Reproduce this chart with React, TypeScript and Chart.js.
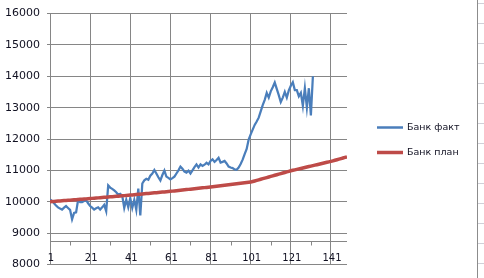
import React, { useEffect, useRef } from "react";
import { Chart, registerables } from "chart.js";

Chart.register(...registerables);

const seriesNames = ["Банк факт", "Банк план"];
const tickLabels = [1, 21, 41, 61, 81, 101, 121, 141];
const minorTicks = [11, 31, 51, 71, 91, 111, 131];
const yMin = 8000;
const yMax = 16000;
const yStep = 1000;
const xMin = 1;
const xMax = 149;

const bankFact = [
  10070, 10020, 9950, 9880, 9820, 9780, 9750, 9810, 9860, 9800,
  9740, 9440, 9640, 9660, 10050, 9990, 9990, 10020, 10050, 9950,
  9860, 9810, 9750, 9790, 9820, 9750, 9820, 9900, 9700, 10520,
  10450, 10410, 10360, 10300, 10220, 10250, 10190, 9800, 10060, 9820,
  10110, 9800, 10060, 9740, 10420, 9560, 10580, 10680, 10730, 10700,
  10830, 10900, 11010, 10900, 10780, 10680, 10850, 10990, 10800, 10760,
  10710, 10750, 10800, 10900, 11000, 11120, 11050, 10960, 10930, 10990,
  10900, 11000, 11100, 11190, 11090, 11190, 11140, 11180, 11240, 11190,
  11300, 11350, 11270, 11330, 11400, 11250, 11270, 11300, 11220, 11120,
  11090, 11070, 11030, 11020, 11090, 11200, 11340, 11520, 11680, 11980,
  12150, 12300, 12450, 12560, 12680, 12880, 13080, 13250, 13470, 13320,
  13520, 13650, 13800, 13600, 13400, 13180, 13320, 13500, 13320, 13550,
  13700, 13810, 13560, 13560, 13360, 13470, 13060, 13620, 13000, 13620,
  12750, 14000,
];

const bankPlan = [
  10000, 10005, 10010, 10015, 10020, 10025, 10030, 10035, 10040, 10045,
  10050, 10055, 10060, 10065, 10070, 10075, 10080, 10085, 10090, 10095,
  10100, 10106, 10111, 10117, 10122, 10128, 10133, 10139, 10144, 10150,
  10155, 10161, 10166, 10172, 10177, 10183, 10188, 10194, 10199, 10205,
  10210, 10216, 10222, 10228, 10234, 10240, 10246, 10252, 10258, 10264,
  10270, 10276, 10282, 10288, 10294, 10300, 10306, 10312, 10318, 10324,
  10330, 10337, 10344, 10351, 10358, 10365, 10372, 10379, 10386, 10393,
  10400, 10407, 10414, 10421, 10428, 10435, 10442, 10449, 10456, 10463,
  10470, 10478, 10486, 10493, 10501, 10509, 10517, 10525, 10532, 10540,
  10548, 10556, 10564, 10571, 10579, 10587, 10595, 10603, 10610, 10618,
  10626, 10644, 10662, 10680, 10698, 10716, 10734, 10752, 10770, 10788,
  10806, 10824, 10842, 10860, 10878, 10896, 10914, 10932, 10950, 10968,
  10986, 11001, 11016, 11031, 11046, 11061, 11076, 11091, 11106, 11121,
  11136, 11151, 11166, 11181, 11196, 11211, 11226, 11241, 11256, 11271,
  11286, 11304, 11322, 11340, 11358, 11376, 11394, 11412, 11430,
];

const axisCrossValue = 8750;
const blueColor = "#4A7EBB";
const redColor = "#BE4B48";
const gridColor = "#868686";
const textColor = "#111122";

const toPoints = (arr: number[]) => arr.map((v, i) => ({ x: i + 1, y: v }));

const overlayPlugin = {
  id: "excelOverlay",
  afterDraw(chart: any) {
    const ctx = chart.ctx as CanvasRenderingContext2D;
    const xs = chart.scales.x;
    const ys = chart.scales.y;
    const area = chart.chartArea;
    const yAxis = Math.round(ys.getPixelForValue(axisCrossValue)) + 0.5;
    ctx.save();
    ctx.strokeStyle = gridColor;
    ctx.lineWidth = 1;
    ctx.beginPath();
    ctx.moveTo(area.left, yAxis);
    ctx.lineTo(area.right, yAxis);
    ctx.stroke();
    ctx.beginPath();
    minorTicks.forEach((t) => {
      const px = Math.round(xs.getPixelForValue(t)) + 0.5;
      ctx.moveTo(px, yAxis);
      ctx.lineTo(px, yAxis + 4);
    });
    ctx.stroke();
    ctx.fillStyle = textColor;
    ctx.font = "10px 'DejaVu Sans'";
    ctx.textAlign = "center";
    ctx.textBaseline = "middle";
    tickLabels.forEach((t) => {
      const px = xs.getPixelForValue(t);
      ctx.fillText(String(t), px + 1, yAxis + 17);
    });
    const legendColors = [blueColor, redColor];
    const legendWidths = [2.5, 3.5];
    ctx.textAlign = "left";
    ctx.font = "9.5px 'DejaVu Sans'";
    seriesNames.forEach((name, i) => {
      const ly = 127.5 + i * 25;
      ctx.strokeStyle = legendColors[i];
      ctx.lineWidth = legendWidths[i];
      ctx.beginPath();
      ctx.moveTo(377, ly);
      ctx.lineTo(403, ly);
      ctx.stroke();
      ctx.fillStyle = textColor;
      ctx.fillText(name, 407, ly);
    });
    ctx.strokeStyle = "#8c8c8c";
    ctx.lineWidth = 1;
    ctx.beginPath();
    ctx.moveTo(477.5, 0);
    ctx.lineTo(477.5, chart.height);
    ctx.stroke();
    ctx.strokeStyle = "#d0d0d8";
    ctx.beginPath();
    for (let y = 3.5; y < chart.height; y += 20) {
      ctx.moveTo(478, y);
      ctx.lineTo(484, y);
    }
    ctx.stroke();
    ctx.restore();
  },
};

export default function App() {
  const canvasRef = useRef<HTMLCanvasElement | null>(null);

  useEffect(() => {
    document.body.style.margin = "0";
    const canvas = canvasRef.current;
    if (!canvas) return;
    const chart = new Chart(canvas, {
      type: "line",
      data: {
        datasets: [
          {
            label: seriesNames[1],
            data: toPoints(bankPlan),
            borderColor: redColor,
            backgroundColor: redColor,
            borderWidth: 3.5,
            pointRadius: 0,
            tension: 0,
            order: 0,
          },
          {
            label: seriesNames[0],
            data: toPoints(bankFact),
            borderColor: blueColor,
            backgroundColor: blueColor,
            borderWidth: 2.25,
            pointRadius: 0,
            tension: 0,
            order: 1,
          },
        ],
      },
      options: {
        responsive: false,
        animation: false,
        devicePixelRatio: 1,
        layout: { padding: { top: 10, right: 137, bottom: 10, left: 0 } },
        plugins: {
          legend: { display: false },
          tooltip: { enabled: false },
        },
        scales: {
          x: {
            type: "linear",
            min: xMin,
            max: xMax,
            afterBuildTicks: (scale: any) => {
              scale.ticks = tickLabels.map((v) => ({ value: v }));
            },
            afterFit: (scale: any) => {
              scale.height = 0;
            },
            ticks: { display: false },
            grid: { color: gridColor, drawTicks: false, lineWidth: 1 },
            border: { display: false },
          },
          y: {
            min: yMin,
            max: yMax,
            afterFit: (scale: any) => {
              scale.width = 50;
            },
            ticks: {
              stepSize: yStep,
              color: textColor,
              padding: 7,
              font: { family: "'DejaVu Sans'", size: 11 },
              callback: (value: any) => String(value),
            },
            grid: { color: gridColor, tickLength: 3, lineWidth: 1 },
            border: { color: gridColor, width: 1 },
          },
        },
      },
      plugins: [overlayPlugin],
    });
    return () => chart.destroy();
  }, []);

  return (
    <div style={{ position: "absolute", left: 0, top: 0, width: 484, height: 278, background: "#fff" }}>
      <canvas ref={canvasRef} width={484} height={278} />
    </div>
  );
}
